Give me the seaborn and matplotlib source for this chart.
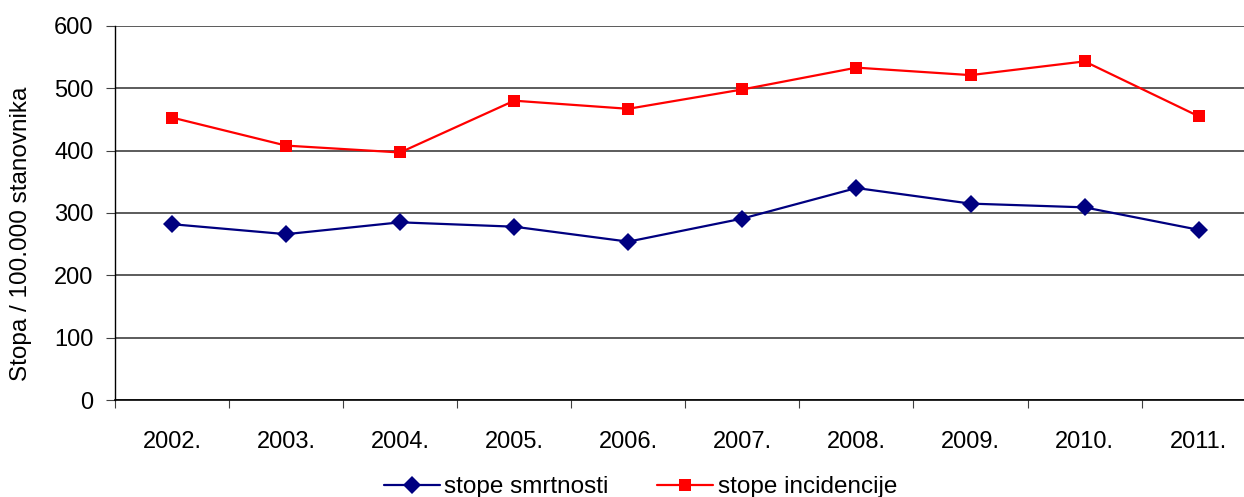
import pandas as pd
import seaborn as sns
import matplotlib.pyplot as plt

# podaci
godine = ["2002.", "2003.", "2004.", "2005.", "2006.", "2007.", "2008.", "2009.", "2010.", "2011."]
smrtnost = [282, 266, 285, 278, 254, 291, 340, 315, 309, 273]
incidencija = [453, 408, 397, 480, 467, 498, 533, 521, 543, 455]

sns.set_style("white")
plt.rcParams['font.family'] = ['Liberation Sans', 'DejaVu Sans']
plt.rcParams['text.color'] = 'black'
plt.rcParams['axes.labelcolor'] = 'black'
plt.rcParams['xtick.color'] = 'black'
plt.rcParams['ytick.color'] = 'black'

df = pd.DataFrame({"godina": godine * 2,
                   "stopa": smrtnost + incidencija,
                   "serija": ["stope smrtnosti"] * 10 + ["stope incidencije"] * 10})

fig = plt.figure(figsize=(12.44, 4.97), dpi=100)
ax = fig.add_axes([0.0924, 0.195, 0.917, 0.753])

sns.lineplot(data=df, x="godina", y="stopa", hue="serija", style="serija",
             palette={"stope smrtnosti": "#000080", "stope incidencije": "#ff0000"},
             markers={"stope smrtnosti": "D", "stope incidencije": "s"},
             dashes=False, linewidth=1.6, markersize=9, markeredgewidth=0,
             ax=ax, sort=False)

ax.set_xlim(-0.5, 9.5)
ax.set_ylim(0, 600)
ax.set_yticks(range(0, 601, 100))
ax.yaxis.grid(True, color="#404040", linewidth=1.2)
ax.set_axisbelow(True)

ax.set_xticks([i - 0.5 for i in range(11)], minor=True)
ax.tick_params(axis="x", which="major", bottom=False, length=0, pad=22, labelsize=17)
ax.tick_params(axis="x", which="minor", bottom=True, length=6, width=0.8, color="#404040", direction="out")
ax.tick_params(axis="y", left=True, length=6.5, width=0.8, color="#404040", direction="out", labelsize=17, pad=9)

for s in ["top", "right"]:
    ax.spines[s].set_visible(False)
ax.spines["left"].set_color("black")
ax.spines["bottom"].set_color("black")
ax.spines["left"].set_linewidth(1)
ax.spines["bottom"].set_linewidth(1.2)

ax.set_xlabel("")
ax.set_ylabel("Stopa / 100.000 stanovnika", fontsize=17.5)
ax.yaxis.set_label_coords(-0.073, 0.444)

handles, labels = ax.get_legend_handles_labels()
ax.legend(handles, labels, loc="center", bbox_to_anchor=(0.515, 0.02),
          bbox_transform=fig.transFigure, frameon=False, ncol=2, fontsize=17.5,
          handlelength=2.3, columnspacing=2.0, handletextpad=0.2)

fig.savefig("out.png", dpi=100)
